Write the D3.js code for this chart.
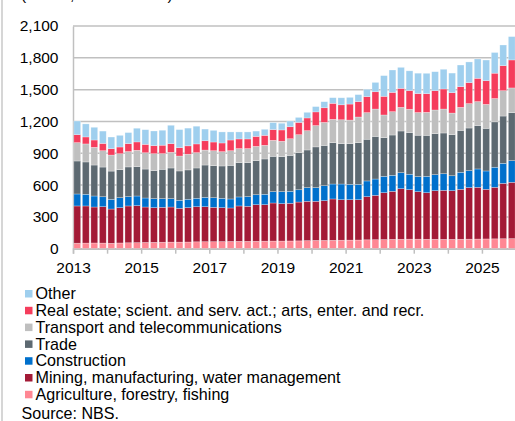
<!DOCTYPE html>
<html>
<head>
<meta charset="utf-8">
<script src="https://cdn.jsdelivr.net/npm/d3@7"></script>
<style>
  html, body { margin: 0; padding: 0; background: #fff; }
  svg { display: block; font-family: "Liberation Sans", Arial, sans-serif; }
</style>
</head>
<body>
<svg id="chart" width="515" height="421"></svg>
<script>
// Quarterly values by sector, 2013 Q1 – 2025 Q4 (EUR millions)
const years = d3.range(2013, 2026);
const quarters = years.flatMap(yr => ["Q1", "Q2", "Q3", "Q4"].map(q => yr + q));

const agriculture = [52,53,54,53, 51,54,56,57, 59,60,61,62, 62,63,65,66, 66,67,68,69, 69,70,71,72,
  72,73,74,76, 78,78,79,80, 81,82,84,85, 86,88,89,90, 90,89,89,88, 88,89,90,91, 92,93,94,95];
const mining = [351,350,339,343, 323,333,347,349, 334,327,329,331, 319,324,331,330, 324,320,316,334,
  331,345,344,359, 353,355,366,371, 369,375,390,382, 381,380,407,418, 442,453,477,467,
  448,439,458,462, 459,471,486,488, 468,486,522,531];
const construction = [113,110,104,94, 91,94,88,91, 85,85,82,79, 75,79,79,88, 91,88,85,85,
  91,94,98,107, 113,113,116,129, 129,141,141,148, 145,145,148,154, 154,151,151,145,
  142,154,151,157, 141,160,160,173, 173,189,189,204];
const trade = [311,305,292,280, 267,264,280,277, 273,264,277,289, 277,277,286,305, 302,305,317,324,
  321,321,333,333, 330,339,349,355, 384,380,390,380, 383,393,393,402, 365,380,393,393,
  390,387,387,384, 387,396,402,409, 402,428,446,453];
const transport = [173,170,167,154, 151,151,145,154, 154,160,148,148, 141,148,145,141, 141,135,138,132,
  132,135,129,151, 145,157,170,182, 201,217,220,226, 223,242,251,258, 214,220,223,220,
  214,217,223,226, 204,217,230,226, 226,220,239,233];
const realEstate = [75,66,69,69, 60,63,75,79, 79,76,79,82, 79,79,82,88, 82,82,101,91,
  91,94,94,101, 107,113,116,120, 129,138,151,141, 151,145,151,163, 176,182,179,176,
  179,176,182,189, 192,195,198,220, 223,239,236,264];
const other = [129,123,120,116, 110,110,104,129, 138,138,141,173, 170,167,167,110, 110,104,76,66,
  66,50,57,66, 63,54,47,53, 50,57,53,66, 63,66,69,88, 195,211,198,186,
  192,192,179,186, 185,204,195,182, 195,195,195,220];

const seriesNames = [
  "Agriculture, forestry, fishing",
  "Mining, manufacturing, water management",
  "Construction",
  "Trade",
  "Transport and telecommunications",
  "Real estate; scient. and serv. act.; arts, enter. and recr.",
  "Other"
];
const seriesValues = [agriculture, mining, construction, trade, transport, realEstate, other];
const colors = ["#ff8793", "#a31a36", "#0070cc", "#5d6971", "#bfbfbf", "#f53d5c", "#9fcfee"];

const yTicks = [0, 300, 600, 900, 1200, 1500, 1800, 2100];
const xLabelYears = [2013, 2015, 2017, 2019, 2021, 2023, 2025];

// Table for the stack layout
const rows = quarters.map((q, i) => {
  const r = { quarter: q };
  seriesNames.forEach((s, k) => { r[s] = seriesValues[k][i]; });
  return r;
});

const svg = d3.select("#chart");
const fontSize = 15.5;
const legendFont = 16.1;
const plotLeft = 73, plotRight = 516, plotTop = 26, plotBottom = 248.7;

const x = d3.scaleBand().domain(quarters).range([plotLeft, plotRight]).paddingInner(0.2).paddingOuter(0.1);
const xYear = d3.scaleLinear().domain([2013, 2026]).range([plotLeft, plotRight]);
const y = d3.scaleLinear().domain([0, 2100]).range([plotBottom, plotTop]);

// frame line on the far left
svg.append("line").attr("x1", 2).attr("x2", 2).attr("y1", 0).attr("y2", 421)
  .attr("stroke", "#c8c8c8").attr("stroke-width", 1.5);

// unit note (sits mostly above the visible area)
svg.append("text").attr("x", 21).attr("y", 0.2).attr("font-size", fontSize).attr("fill", "#000")
  .text("(Profits, EUR millions)");

// gridlines
svg.append("g").selectAll("line").data(yTicks).join("line")
  .attr("x1", plotLeft).attr("x2", 515)
  .attr("y1", d => y(d)).attr("y2", d => y(d))
  .attr("stroke", "#c0c0c0").attr("stroke-width", 1.5);

// y axis labels
const yAxis = d3.axisLeft(y).tickValues(yTicks).tickFormat(d3.format(",")).tickSize(0).tickPadding(14.5);
const gy = svg.append("g").attr("transform", `translate(${plotLeft},0)`).call(yAxis);
gy.select(".domain").attr("stroke", "#c0c0c0").attr("stroke-width", 1.5);
gy.selectAll("text").attr("font-size", fontSize).attr("font-family", "Liberation Sans, Arial, sans-serif").attr("fill", "#000");

// stacked bars
const stack = d3.stack().keys(seriesNames);
const layers = stack(rows);
svg.append("g").selectAll("g").data(layers).join("g")
  .attr("fill", (d, i) => colors[i])
  .selectAll("rect").data(d => d).join("rect")
  .attr("x", d => x(d.data.quarter))
  .attr("width", x.bandwidth())
  .attr("y", d => y(d[1]))
  .attr("height", d => y(d[0]) - y(d[1]))
  .attr("stroke", "#fff").attr("stroke-opacity", 0.45).attr("stroke-width", 0.6);

// x axis
const xAxis = d3.axisBottom(xYear).tickValues(d3.range(2013, 2027)).tickSize(5).tickPadding(8.5)
  .tickFormat(d => xLabelYears.includes(d) ? String(d) : "");
const gx = svg.append("g").attr("transform", `translate(0,${plotBottom})`).call(xAxis);
gx.select(".domain").attr("stroke", "#c0c0c0").attr("stroke-width", 1.5);
gx.selectAll(".tick line").attr("stroke", "#c0c0c0").attr("stroke-width", 1.5);
gx.selectAll("text").attr("font-size", fontSize).attr("font-family", "Liberation Sans, Arial, sans-serif").attr("fill", "#000");

// legend, top entry is the top of the stack
const legendNames = seriesNames.slice().reverse();
const legendColors = colors.slice().reverse();
const lg = svg.append("g");
legendNames.forEach((name, i) => {
  const cy = 293.5 + i * 16.8;
  lg.append("rect").attr("x", 25).attr("y", cy - 3.5).attr("width", 7.5).attr("height", 7.5)
    .attr("fill", legendColors[i]);
  lg.append("text").attr("x", 35.5).attr("y", cy).attr("dy", "0.36em")
    .attr("font-size", legendFont).attr("fill", "#000").text(name);
});

svg.append("text").attr("x", 21.5).attr("y", 413).attr("dy", "0.36em")
  .attr("font-size", legendFont).attr("fill", "#000").text("Source: NBS.");
</script>
</body>
</html>
